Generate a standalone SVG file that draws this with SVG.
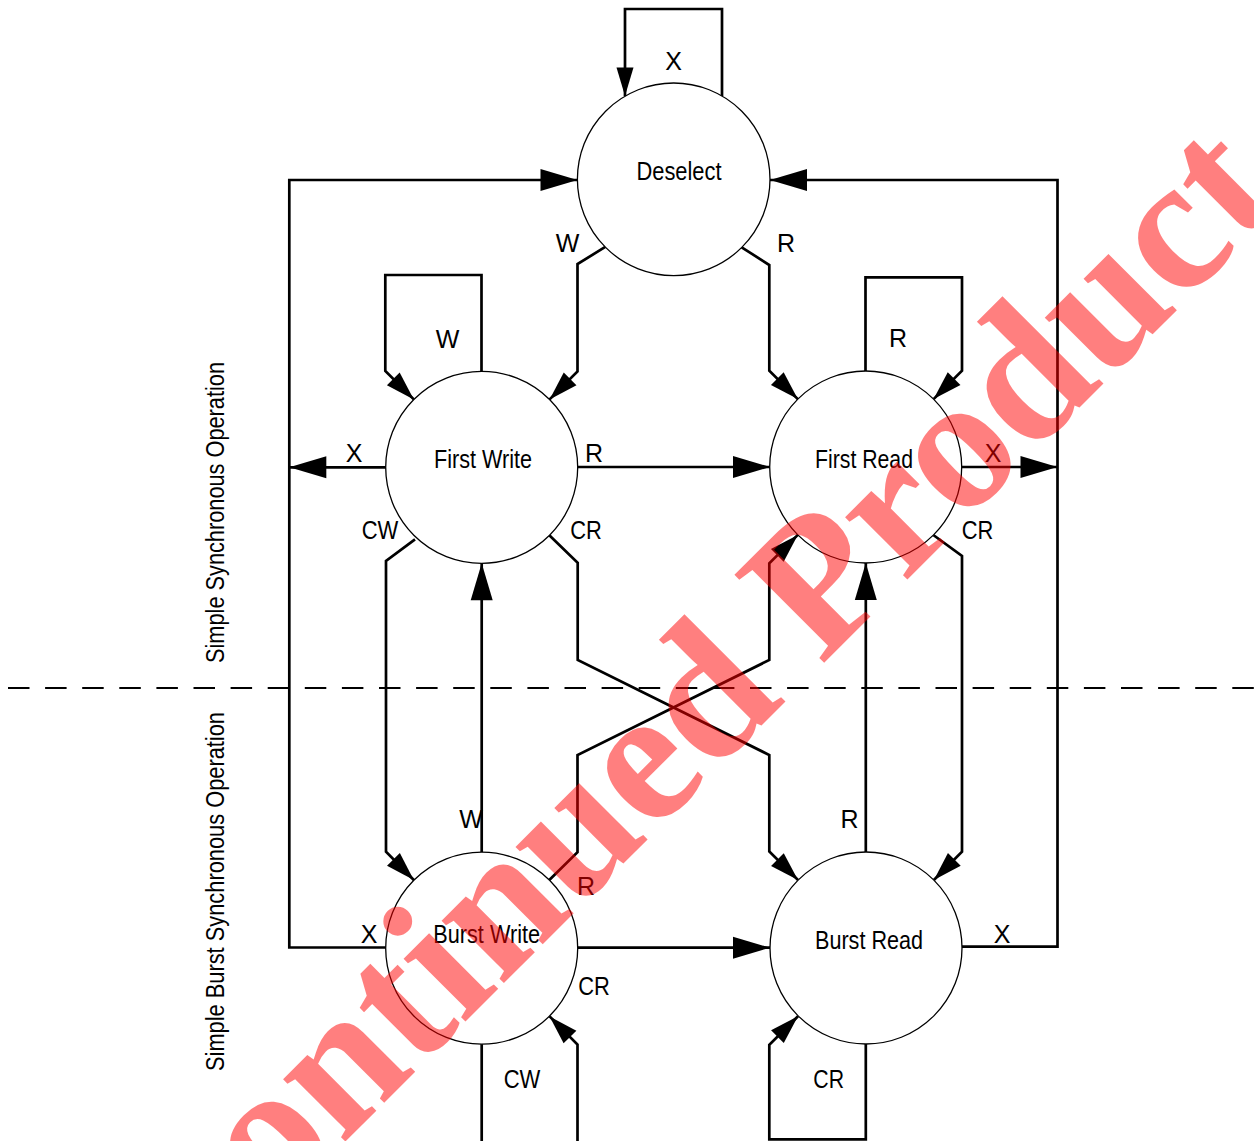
<svg xmlns="http://www.w3.org/2000/svg" width="1254" height="1141" viewBox="0 0 1254 1141">
<style>
.node{fill:#fff;stroke:#000;stroke-width:1.3}
.c{fill:none;stroke:#000;stroke-width:2.7;stroke-linejoin:miter}
.t{font-family:"Liberation Sans",Arial,sans-serif;font-size:25px;fill:#000;text-anchor:middle}
.wm{font-family:"Liberation Serif","Times New Roman",serif;font-weight:bold;font-size:192px;fill:#ff0000;fill-opacity:0.5}
</style>
<defs>
<marker id="big" markerUnits="userSpaceOnUse" markerWidth="38" markerHeight="23" refX="37" refY="11" orient="auto" overflow="visible">
<path d="M0,0 L37,11 L0,22 Z" fill="#000"/>
</marker>
<marker id="med" markerUnits="userSpaceOnUse" markerWidth="30" markerHeight="19" refX="29" refY="9" orient="auto" overflow="visible">
<path d="M0,0 L29,9 L0,18 Z" fill="#000"/>
</marker>
<marker id="sm" markerUnits="userSpaceOnUse" markerWidth="29" markerHeight="17" refX="28.5" refY="8.5" orient="auto" overflow="visible">
<path d="M0,0 L28.5,8.5 L0,17 Z" fill="#000"/>
</marker>
</defs>
<rect x="0" y="0" width="1254" height="1141" fill="#fff"/>

<line x1="8" y1="688" x2="1254" y2="688" stroke="#000" stroke-width="2" stroke-dasharray="21.5 15.6"/>

<g id="connectors">
<!-- Deselect self loop X -->
<path class="c" d="M722,96 L722,9 L625,9 L625,96" marker-end="url(#sm)"/>
<!-- Left outer loop -->
<path class="c" d="M386,947.5 L289.3,947.5 L289.3,180 L577.5,180" marker-end="url(#big)"/>
<!-- Right outer loop -->
<path class="c" d="M962,946.7 L1057.5,946.7 L1057.5,180 L770,180" marker-end="url(#big)"/>
<!-- First Write X -->
<path class="c" d="M386,467.3 L289.3,467.3" marker-end="url(#big)"/>
<!-- First Read X -->
<path class="c" d="M962,467 L1057.5,467" marker-end="url(#big)"/>
<!-- Deselect W -> First Write -->
<path class="c" d="M605.7,246.7 L577.5,264 L577.5,371.5 L549.6,399.4" marker-end="url(#med)"/>
<!-- Deselect R -> First Read -->
<path class="c" d="M741.7,247.3 L769.3,265 L769.3,370.6 L797.8,399.1" marker-end="url(#med)"/>
<!-- First Write W loop -->
<path class="c" d="M481.5,371.3 L481.5,275 L385.3,275 L385.3,370.9 L413.8,399.4" marker-end="url(#med)"/>
<!-- First Read R loop -->
<path class="c" d="M865.5,372 L865.5,277.3 L962,277.3 L962,370.7 L933.6,399.1" marker-end="url(#med)"/>
<!-- First Write R -> First Read -->
<path class="c" d="M577.7,467 L770,467" marker-end="url(#big)"/>
<!-- First Write CW -> Burst Write -->
<path class="c" d="M415,539.3 L386,561 L386,851.8 L413.8,880" marker-end="url(#med)"/>
<!-- First Write CR -> Burst Read -->
<path class="c" d="M549.3,535.3 L577.7,562.7 L577.7,660 L769.3,755 L769.3,851.5 L798,880" marker-end="url(#med)"/>
<!-- Burst Write R -> First Read -->
<path class="c" d="M549.3,880 L577.5,852.3 L577.5,755 L769.3,660 L769.3,563.4 L797.8,534.9" marker-end="url(#med)"/>
<!-- First Read CR -> Burst Read -->
<path class="c" d="M933.3,535 L962,556 L962,851.7 L933.9,880" marker-end="url(#med)"/>
<!-- Burst Write W -> First Write -->
<path class="c" d="M481.7,852.3 L481.7,563.3" marker-end="url(#big)"/>
<!-- Burst Read R -> First Read -->
<path class="c" d="M865.8,852.3 L865.8,563" marker-end="url(#big)"/>
<!-- Burst Write CR -> Burst Read -->
<path class="c" d="M577.5,947.7 L770,947.7" marker-end="url(#big)"/>
<!-- Burst Write CW loop -->
<path class="c" d="M481.7,1044 L481.7,1150 L577.5,1150 L577.5,1044.6 L549.6,1016.4" marker-end="url(#med)"/>
<!-- Burst Read CR loop -->
<path class="c" d="M865.8,1044 L865.8,1139.3 L769.3,1139.3 L769.3,1044.7 L798,1016.2" marker-end="url(#med)"/>
</g>

<g id="node-deselect">
<circle class="node" cx="673.7" cy="179.3" r="96.3"/>
<text class="t" x="679" y="180" textLength="85" lengthAdjust="spacingAndGlyphs">Deselect</text>
</g>
<g id="node-first-write">
<circle class="node" cx="481.7" cy="467.3" r="96"/>
<text class="t" x="483" y="468.3" textLength="98" lengthAdjust="spacingAndGlyphs">First Write</text>
</g>
<g id="node-first-read">
<circle class="node" cx="865.7" cy="467" r="96"/>
<text class="t" x="864" y="468.3" textLength="98" lengthAdjust="spacingAndGlyphs">First Read</text>
</g>
<g id="node-burst-write">
<circle class="node" cx="481.7" cy="948.2" r="96"/>
<text class="t" x="486.7" y="942.7" textLength="106.7" lengthAdjust="spacingAndGlyphs">Burst Write</text>
</g>
<g id="node-burst-read">
<circle class="node" cx="866" cy="948" r="96"/>
<text class="t" x="869" y="949" textLength="108" lengthAdjust="spacingAndGlyphs">Burst Read</text>
</g>

<g id="labels">
<text class="t" x="673.7" y="70">X</text>
<text class="t" x="567.5" y="251.7">W</text>
<text class="t" x="786" y="252">R</text>
<text class="t" x="447.5" y="348">W</text>
<text class="t" x="898" y="347.3">R</text>
<text class="t" x="354" y="461.7">X</text>
<text class="t" x="594" y="461.7">R</text>
<text class="t" x="993" y="461.7">X</text>
<text class="t" x="380" y="539.3" textLength="36.6" lengthAdjust="spacingAndGlyphs">CW</text>
<text class="t" x="586" y="539.3" textLength="31.6" lengthAdjust="spacingAndGlyphs">CR</text>
<text class="t" x="977.5" y="539.3" textLength="31.6" lengthAdjust="spacingAndGlyphs">CR</text>
<text class="t" x="471" y="828.3">W</text>
<text class="t" x="849.5" y="828.3">R</text>
<text class="t" x="586" y="895">R</text>
<text class="t" x="369" y="942.7">X</text>
<text class="t" x="1002" y="942.7">X</text>
<text class="t" x="594" y="995" textLength="31.6" lengthAdjust="spacingAndGlyphs">CR</text>
<text class="t" x="522" y="1088.3" textLength="36.7" lengthAdjust="spacingAndGlyphs">CW</text>
<text class="t" x="828.7" y="1088.3" textLength="30.7" lengthAdjust="spacingAndGlyphs">CR</text>
<text class="t" transform="translate(224,512.5) rotate(-90)" x="0" y="0" textLength="301" lengthAdjust="spacingAndGlyphs">Simple Synchronous Operation</text>
<text class="t" transform="translate(224,891.5) rotate(-90)" x="0" y="0" textLength="359" lengthAdjust="spacingAndGlyphs">Simple Burst Synchronous Operation</text>
</g>

<g id="watermark">
<text class="wm" transform="translate(25,1462) rotate(-45)" x="0" y="0">Discontinued Product</text>
</g>
</svg>
